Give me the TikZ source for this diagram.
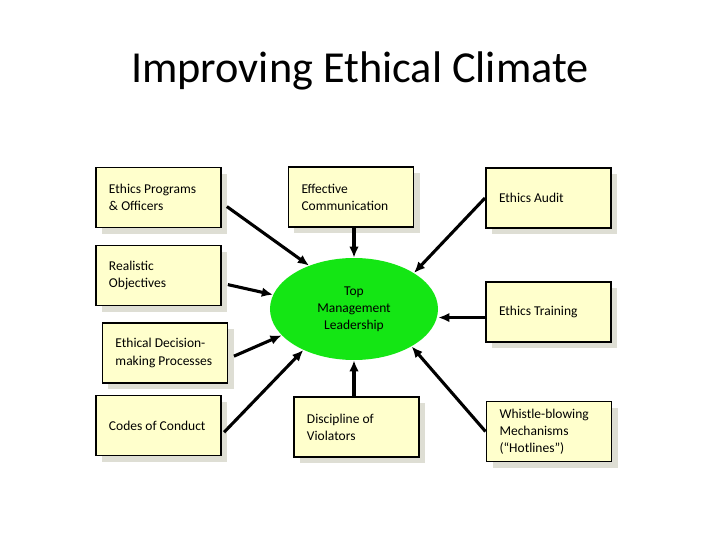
\documentclass[tikz,border=0pt]{standalone}
\usepackage{fontspec}
\setmainfont{Carlito}
\usetikzlibrary{shapes.geometric,shadows,arrows.meta}
\definecolor{boxfill}{RGB}{255,255,204}
\definecolor{shadowgray}{RGB}{222,222,212}
\definecolor{leadgreen}{RGB}{20,230,20}
\tikzset{
  factor/.style={draw=black,line width=1.4pt,fill=boxfill,minimum width=31.25mm,
    minimum height=15mm,text width=24.75mm,inner xsep=3.25mm,align=flush left,
    font=\fontsize{9.6}{12.2}\selectfont,
    drop shadow={shadow xshift=1.5mm,shadow yshift=-1.5mm,fill=shadowgray,opacity=1}},
  push/.style={line width=2.2pt,-{Latex[length=2.8mm,width=2.4mm]}}
}

\begin{document}
\begin{tikzpicture}[x=0.25mm,y=-0.25mm]
    \fill[white] (0,0) rectangle (720,540);
    \useasboundingbox (0,0) rectangle (720,540);
    \node[anchor=base,font=\fontsize{31.5}{36}\selectfont] (title) at (360,82) {Improving Ethical Climate};
    \node[factor] (prog) at (158.5,197.5) {Ethics Programs\\ \& Officers};
    \node[factor] (obj) at (158.5,275.5) {Realistic\\ Objectives};
    \node[factor] (dec) at (165,353) {Ethical Decision-\\making Processes};
    \node[factor] (codes) at (158.5,425.5) {Codes of Conduct};
    \node[factor] (comm) at (351,197) {Effective\\ Communication};
    \node[factor] (audit) at (548.5,198) {Ethics Audit};
    \node[factor] (train) at (548.5,312) {Ethics Training};
    \node[factor] (disc) at (356.5,427) {Discipline of\\ Violators};
    \node[factor] (whistle) at (549,431.5) {Whistle-blowing\\ Mechanisms\\ (``Hotlines'')};
    \node[ellipse,fill=leadgreen,minimum width=42mm,minimum height=25.5mm,inner sep=0pt,
      align=center,font=\fontsize{9.6}{12.2}\selectfont] (lead) at (354,309) {Top\\ Management\\ Leadership};
    \draw[push,shorten <=1.5mm] (prog.-5) -- (lead.136);
    \draw[push,shorten <=1.5mm] (obj.-7) -- (lead.170);
    \draw[push,shorten <=1.5mm] (dec.-5) -- (lead.-160);
    \draw[push,shorten <=0.75mm] (codes.-8) -- (lead.-141);
    \draw[push] (lead.north |- comm.south) -- (lead.north);
    \draw[push] (audit.west) -- (lead.31);
    \draw[push] (train.185) -- (train.185 -| lead.east);
    \draw[push] (lead.south |- disc.north) -- (lead.south);
    \draw[push] (whistle.west) -- (lead.-33);
\end{tikzpicture}
\end{document}
